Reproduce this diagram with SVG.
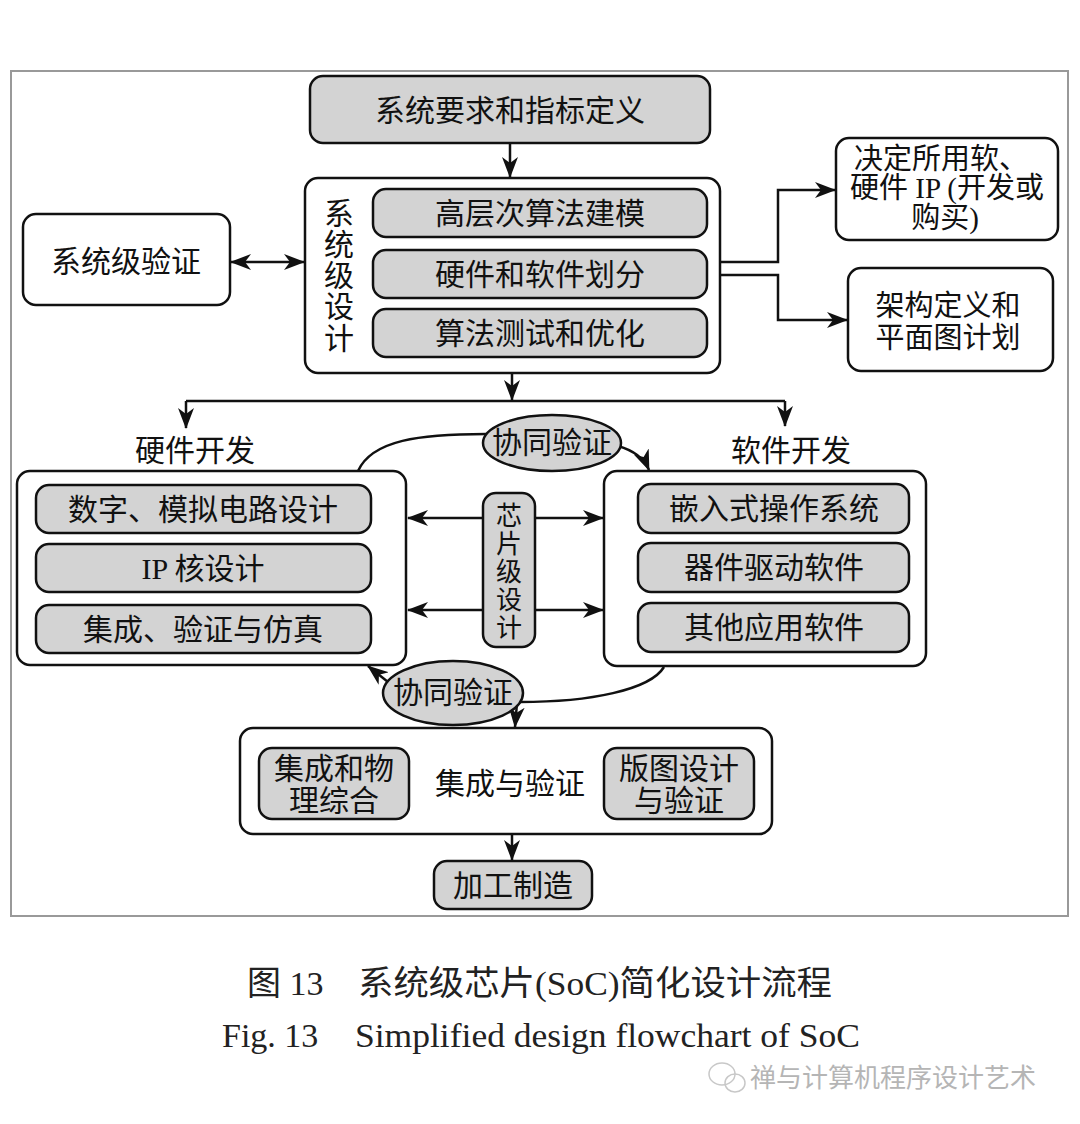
<svg xmlns="http://www.w3.org/2000/svg" width="1080" height="1124" viewBox="0 0 1080 1124">
<defs>
<style>
.bx{fill:#ffffff;stroke:#111;stroke-width:2.5}
.gb{fill:#d3d3d3;stroke:#111;stroke-width:2.5}
.t{font-family:"Liberation Serif","Noto Sans CJK SC",serif;font-size:30px;fill:#111;text-anchor:middle;dominant-baseline:central}
.t28{font-size:29px}
.tv{font-size:26px}
.ln{fill:none;stroke:#111;stroke-width:2.5}
.cap{font-family:"Liberation Serif","Noto Sans CJK SC",serif;font-size:34px;fill:#222}
.wm{font-family:"Noto Sans CJK SC",sans-serif;font-size:26px;fill:#b5b5b5}
</style>
<marker id="ah" viewBox="0 0 21 16" refX="20" refY="8" markerWidth="21" markerHeight="16" orient="auto-start-reverse" markerUnits="userSpaceOnUse">
<path d="M0,0 L21,8 L0,16 L6,8 z" fill="#111"/>
</marker>
</defs>
<rect width="1080" height="1124" fill="#ffffff"/>
<rect x="11" y="71" width="1057" height="845" fill="none" stroke="#999" stroke-width="2"/>

<g id="connectors">
<path class="ln" d="M510,143 V177" marker-end="url(#ah)"/>
<path class="ln" d="M231,262 H304" marker-start="url(#ah)" marker-end="url(#ah)"/>
<path class="ln" d="M720,262 H778 V190 H835" marker-end="url(#ah)"/>
<path class="ln" d="M720,275 H778 V320 H847" marker-end="url(#ah)"/>
<path class="ln" d="M512,373 V400" marker-end="url(#ah)"/>
<path class="ln" d="M186,401 H785"/>
<path class="ln" d="M186,401 V428" marker-end="url(#ah)"/>
<path class="ln" d="M785,401 V426" marker-end="url(#ah)"/>
<path class="ln" d="M358,471 C372,440 420,434 486,434"/>
<path class="ln" d="M618,446 C632,450 644,458 649,470" marker-end="url(#ah)"/>
<path class="ln" d="M483,518 H408" marker-end="url(#ah)"/>
<path class="ln" d="M535,518 H603" marker-end="url(#ah)"/>
<path class="ln" d="M483,610 H408" marker-end="url(#ah)"/>
<path class="ln" d="M535,610 H603" marker-end="url(#ah)"/>
<path class="ln" d="M388,682 L368,666" marker-end="url(#ah)"/>
<path class="ln" d="M664,667 C650,690 590,702 520,702"/>
<path class="ln" d="M517,703 L515,727" marker-end="url(#ah)"/>
<path class="ln" d="M512,834 V860" marker-end="url(#ah)"/>
</g>

<g id="n-req">
<rect class="gb" x="310" y="76" width="400" height="67" rx="13"/>
<text class="t" x="510" y="110">系统要求和指标定义</text>
</g>

<g id="n-sysdesign">
<rect class="bx" x="305" y="178" width="415" height="195" rx="13"/>
<text class="t" x="339" y="213">系</text>
<text class="t" x="339" y="244">统</text>
<text class="t" x="339" y="275">级</text>
<text class="t" x="339" y="306">设</text>
<text class="t" x="339" y="338">计</text>
</g>
<g id="n-hla">
<rect class="gb" x="373" y="189" width="334" height="48" rx="13"/>
<text class="t" x="540" y="213">高层次算法建模</text>
</g>
<g id="n-hwsw">
<rect class="gb" x="373" y="250" width="334" height="48" rx="13"/>
<text class="t" x="540" y="274">硬件和软件划分</text>
</g>
<g id="n-algtest">
<rect class="gb" x="373" y="309" width="334" height="48" rx="13"/>
<text class="t" x="540" y="333">算法测试和优化</text>
</g>

<g id="n-sysver">
<rect class="bx" x="23" y="214" width="207" height="91" rx="13"/>
<text class="t" x="126" y="261">系统级验证</text>
</g>

<g id="n-ip">
<rect class="bx" x="836" y="138" width="222" height="102" rx="13"/>
<text class="t t28" x="941" y="159">决定所用软、</text>
<text class="t t28" x="947" y="188">硬件 IP (开发或</text>
<text class="t t28" x="945" y="218">购买)</text>
</g>

<g id="n-arch">
<rect class="bx" x="848" y="268" width="205" height="103" rx="13"/>
<text class="t t28" x="948" y="306">架构定义和</text>
<text class="t t28" x="948" y="338">平面图计划</text>
</g>

<g id="n-hwdev-label"><text class="t" x="195" y="450">硬件开发</text></g>
<g id="n-swdev-label"><text class="t" x="791" y="450">软件开发</text></g>

<g id="n-hwdev">
<rect class="bx" x="17" y="471" width="389" height="194" rx="13"/>
</g>
<g id="n-dig">
<rect class="gb" x="36" y="485" width="335" height="48" rx="13"/>
<text class="t" x="203" y="509">数字、模拟电路设计</text>
</g>
<g id="n-ipcore">
<rect class="gb" x="36" y="544" width="335" height="48" rx="13"/>
<text class="t" x="203" y="568">IP 核设计</text>
</g>
<g id="n-integ">
<rect class="gb" x="36" y="605" width="335" height="48" rx="13"/>
<text class="t" x="203" y="629">集成、验证与仿真</text>
</g>

<g id="n-swdev">
<rect class="bx" x="604" y="471" width="322" height="195" rx="13"/>
</g>
<g id="n-os">
<rect class="gb" x="638" y="484" width="271" height="49" rx="13"/>
<text class="t" x="774" y="508">嵌入式操作系统</text>
</g>
<g id="n-drv">
<rect class="gb" x="638" y="543" width="271" height="49" rx="13"/>
<text class="t" x="774" y="567">器件驱动软件</text>
</g>
<g id="n-app">
<rect class="gb" x="638" y="603" width="271" height="49" rx="13"/>
<text class="t" x="774" y="627">其他应用软件</text>
</g>

<g id="n-chip">
<rect class="gb" x="483" y="493" width="52" height="154" rx="13"/>
<text class="t tv" x="509" y="516">芯</text>
<text class="t tv" x="509" y="544">片</text>
<text class="t tv" x="509" y="572">级</text>
<text class="t tv" x="509" y="600">设</text>
<text class="t tv" x="509" y="628">计</text>
</g>

<g id="n-cover1">
<ellipse class="gb" cx="552" cy="443" rx="69" ry="28"/>
<text class="t" x="552" y="442">协同验证</text>
</g>

<g id="n-cover2">
<ellipse class="gb" cx="453" cy="693" rx="70" ry="32"/>
<text class="t" x="453" y="692">协同验证</text>
</g>

<g id="n-intver">
<rect class="bx" x="240" y="728" width="532" height="106" rx="13"/>
<text class="t" x="510" y="783">集成与验证</text>
</g>
<g id="n-synth">
<rect class="gb" x="259" y="748" width="150" height="71" rx="13"/>
<text class="t" x="334" y="768">集成和物</text>
<text class="t" x="334" y="800">理综合</text>
</g>
<g id="n-layout">
<rect class="gb" x="604" y="748" width="150" height="71" rx="13"/>
<text class="t" x="679" y="768">版图设计</text>
<text class="t" x="679" y="800">与验证</text>
</g>

<g id="n-fab">
<rect class="gb" x="434" y="861" width="158" height="48" rx="13"/>
<text class="t" x="513" y="885">加工制造</text>
</g>

<g id="caption">
<text class="cap" x="247" y="995">图 13</text>
<text class="cap" x="358" y="995" textLength="474" lengthAdjust="spacingAndGlyphs">系统级芯片(SoC)简化设计流程</text>
<text class="cap" x="222" y="1047" font-size="33">Fig. 13</text>
<text class="cap" x="355" y="1047" font-size="33" textLength="505" lengthAdjust="spacingAndGlyphs">Simplified design flowchart of SoC</text>
</g>

<g id="watermark">
<ellipse cx="722" cy="1074" rx="13" ry="11" fill="none" stroke="#c8c8c8" stroke-width="1.5"/>
<ellipse cx="735" cy="1083" rx="10" ry="9" fill="none" stroke="#c8c8c8" stroke-width="1.5"/>
<text class="wm" x="750" y="1087">禅与计算机程序设计艺术</text>
</g>
</svg>
